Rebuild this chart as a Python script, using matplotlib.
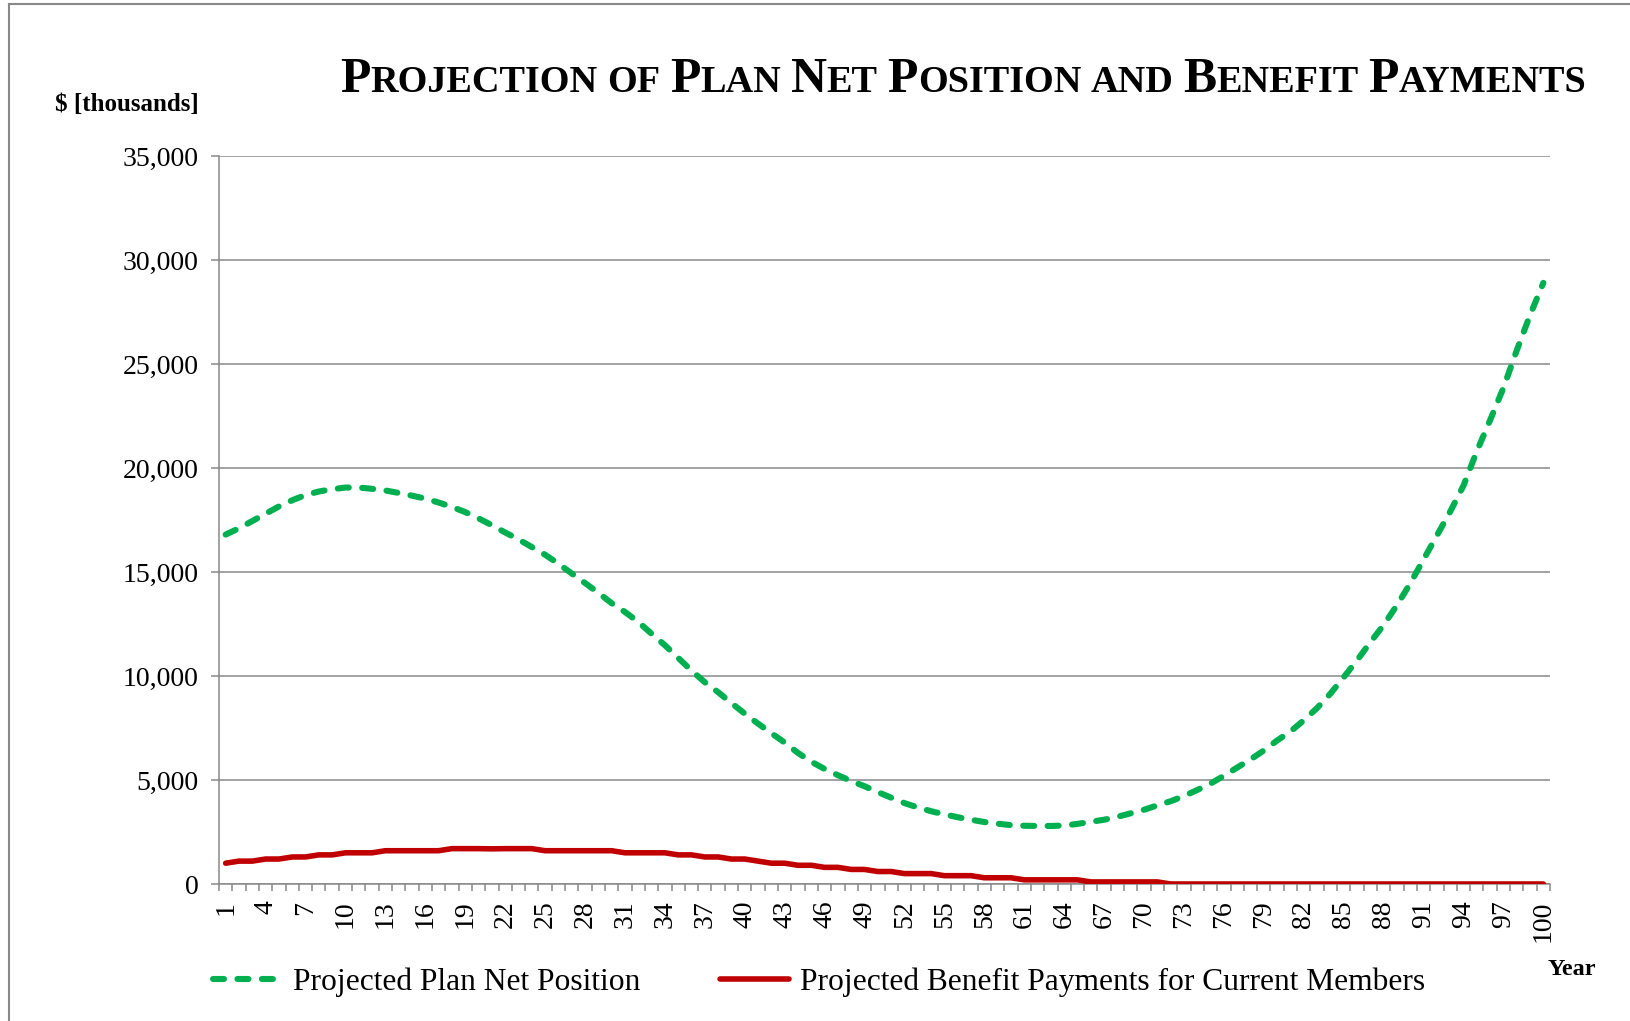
import matplotlib
matplotlib.use("Agg")
import matplotlib.pyplot as plt
from matplotlib.lines import Line2D
from matplotlib.ticker import FuncFormatter, MultipleLocator
from matplotlib.transforms import IdentityTransform

plt.rcParams["font.family"] = ["Liberation Serif", "DejaVu Serif"]

# data ($ thousands, by projection year)
years = list(range(1, 101))

net_position = [
    16800, 17100, 17450, 17800, 18150, 18450, 18700, 18870, 18980, 19060,
    19060, 19000, 18920, 18800, 18670, 18530, 18340, 18130, 17880, 17580,
    17250, 16900, 16570, 16200, 15830, 15400, 14930, 14470, 14000, 13500,
    13080, 12600, 12030, 11480, 10870, 10260, 9700, 9220, 8700, 8190,
    7710, 7250, 6800, 6300, 5880, 5530, 5230, 4950, 4700, 4420,
    4150, 3890, 3680, 3500, 3350, 3210, 3090, 2980, 2900, 2830,
    2800, 2790, 2790, 2810, 2890, 2990, 3090, 3230, 3400, 3570,
    3780, 3980, 4230, 4520, 4830, 5200, 5600, 5990, 6420, 6900,
    7330, 7870, 8460, 9150, 9940, 10750, 11620, 12450, 13400, 14450,
    15600, 16750, 17900, 19150, 20800, 22300, 23850, 25650, 27350, 28900,
]

benefit_payments = [
    1000, 1100, 1100, 1200, 1200, 1300, 1300, 1400, 1400, 1500,
    1500, 1500, 1600, 1600, 1600, 1600, 1600, 1700, 1700, 1700,
    1690, 1700, 1700, 1700, 1600, 1600, 1600, 1600, 1600, 1600,
    1500, 1500, 1500, 1500, 1400, 1400, 1300, 1300, 1200, 1200,
    1100, 1000, 1000, 900, 900, 800, 800, 700, 700, 600,
    600, 500, 500, 500, 400, 400, 400, 300, 300, 300,
    200, 200, 200, 200, 200, 100, 100, 100, 100, 100,
    100, 0, 0, 0, 0, 0, 0, 0, 0, 0,
    0, 0, 0, 0, 0, 0, 0, 0, 0, 0,
    0, 0, 0, 0, 0, 0, 0, 0, 0, 0,
]

series_names = ["Projected Plan Net Position", "Projected Benefit Payments for Current Members"]
title_words = ["Projection", "of", "Plan", "Net", "Position", "and", "Benefit", "Payments"]
x_tick_years = list(range(1, 101, 3))

W, H = 1631, 1021
grey = "#898989"

fig = plt.figure(figsize=(W / 100, H / 100), dpi=100)
ax = fig.add_axes([219 / W, 1 - 884 / H, (1550 - 219) / W, (884 - 156) / H])

ax.plot(years, net_position, color="#00B050", lw=4.4, dashes=(1.8, 2.2),
        dash_capstyle="round", label=series_names[0], zorder=3)
ax.plot(years, benefit_payments, color="#C00000", lw=4.0,
        solid_capstyle="round", solid_joinstyle="round", label=series_names[1], zorder=3)

ax.set_xlim(0.5, 100.5)
ax.set_ylim(0, 35000)

ax.set_xticks(x_tick_years)
ax.set_xticklabels([str(y) for y in x_tick_years], rotation=90)
ax.set_xticks([y - 0.5 for y in years] + [100.5], minor=True)
ax.tick_params(axis="x", which="major", length=0, pad=12, labelsize=20)
ax.tick_params(axis="x", which="minor", length=5, width=1.1, color=grey, direction="out")

ax.yaxis.set_major_locator(MultipleLocator(5000))
ax.yaxis.set_major_formatter(FuncFormatter(lambda v, p: f"{int(v):,}"))
ax.tick_params(axis="y", length=5.8, width=1.1, color=grey, pad=9, labelsize=20)

ax.grid(axis="y", color=grey, lw=1.1)
ax.set_axisbelow(True)
for side in ["top", "right"]:
    ax.spines[side].set_visible(False)
for side in ["left", "bottom"]:
    ax.spines[side].set_color(grey)
    ax.spines[side].set_linewidth(1.1)

# legend
fig.legend(ncol=2, frameon=False, loc="center left",
           bbox_to_anchor=(213 / W, 1 - 982 / H), fontsize=22.7,
           handlelength=2.2, handletextpad=0.35, columnspacing=2.5,
           borderpad=0, borderaxespad=0)

fig.text(55 / W, 1 - 104 / H, "$ [thousands]", fontsize=18, fontweight="bold",
         ha="left", va="center")
fig.text(1572 / W, 1 - 969 / H, "Year", fontsize=17.5, fontweight="bold",
         ha="center", va="center")

# outer frame (left and top edges)
fig.add_artist(Line2D([9 / W, 9 / W], [0, 1 - 4 / H], transform=fig.transFigure,
                      color=grey, lw=1.5))
fig.add_artist(Line2D([9 / W, 1], [1 - 4 / H, 1 - 4 / H], transform=fig.transFigure,
                      color=grey, lw=1.5))

# small-caps title, drawn piece by piece
renderer = fig.canvas.get_renderer()
big, small = 35.8, 27.5


def text_width(s, size):
    t = fig.text(0, 0, s, fontsize=size, fontweight="bold", transform=IdentityTransform())
    w = t.get_window_extent(renderer).width
    t.remove()
    return w


space = text_width("N N", small) - text_width("NN", small)
x = 340
y = H - 91.5
for i, word in enumerate(title_words):
    if word[0].isupper():
        pieces = [(word[0], big), (word[1:].upper(), small)]
    else:
        pieces = [(word.upper(), small)]
    for s, size in pieces:
        t = fig.text(x, y, s, fontsize=size, fontweight="bold", va="baseline",
                     transform=IdentityTransform())
        x += t.get_window_extent(renderer).width
    x += space

fig.savefig("out.png", dpi=100)
